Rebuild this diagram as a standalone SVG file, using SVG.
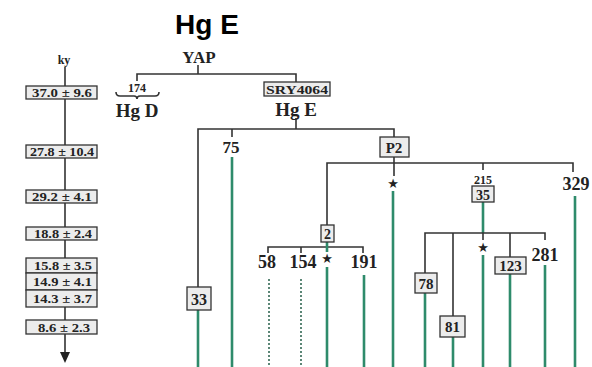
<svg xmlns="http://www.w3.org/2000/svg" width="592" height="367" viewBox="0 0 592 367">
<style>
.t{font-family:"Liberation Serif","Times New Roman",serif;font-weight:bold;fill:#222;text-anchor:middle}
.k{font-family:"Liberation Serif","Times New Roman",serif;font-weight:bold;fill:#222;font-size:12.5px}
.bx{fill:#ececec;stroke:#333;stroke-width:1.3}
.ln{stroke:#333;stroke-width:1.6;fill:none}
.g{stroke:#2e8b6b;stroke-width:2.6;fill:none}
.d{stroke:#4a7a68;stroke-width:1.8;stroke-dasharray:2,2;fill:none}
.star{font-family:"DejaVu Sans",sans-serif;fill:#222;text-anchor:middle;font-size:13px}
</style>
<rect width="592" height="367" fill="#fff"/>
<text x="207" y="34" style="font-family:'Liberation Sans',Arial,sans-serif;font-weight:bold;font-size:28px;fill:#000;text-anchor:middle">Hg E</text>

<g id="timescale">
<text class="t" x="64" y="64" font-size="12">ky</text>
<line class="ln" x1="65" y1="67" x2="65" y2="353"/>
<polygon points="60,352 70,352 65,363" fill="#222"/>
<rect class="bx" x="26" y="86" width="71" height="13"/><text class="k" x="32" y="97" textLength="60" lengthAdjust="spacingAndGlyphs">37.0 ± 9.6</text>
<rect class="bx" x="26" y="145" width="71" height="13"/><text class="k" x="30" y="156" textLength="64" lengthAdjust="spacingAndGlyphs">27.8 ± 10.4</text>
<rect class="bx" x="26" y="190" width="71" height="13"/><text class="k" x="32" y="201" textLength="60" lengthAdjust="spacingAndGlyphs">29.2 ± 4.1</text>
<rect class="bx" x="26" y="227" width="71" height="13"/><text class="k" x="34" y="238" textLength="58" lengthAdjust="spacingAndGlyphs">18.8 ± 2.4</text>
<rect class="bx" x="26" y="258" width="71" height="15"/><text class="k" x="34" y="270" textLength="58" lengthAdjust="spacingAndGlyphs">15.8 ± 3.5</text>
<rect class="bx" x="26" y="273" width="71" height="17"/><text class="k" x="33" y="286" textLength="59" lengthAdjust="spacingAndGlyphs">14.9 ± 4.1</text>
<rect class="bx" x="26" y="290" width="71" height="17"/><text class="k" x="33" y="303" textLength="59" lengthAdjust="spacingAndGlyphs">14.3 ± 3.7</text>
<rect class="bx" x="26" y="320" width="71" height="14"/><text class="k" x="38" y="331.5" textLength="52" lengthAdjust="spacingAndGlyphs">8.6 ± 2.3</text>
</g>

<g id="connectors">
<line class="ln" x1="198" y1="65" x2="198" y2="74"/>
<polyline class="ln" points="137,81 137,74 296,74 296,82"/>
<path class="ln" d="M116,92 Q116,96 120,96 L134,96 Q137,96 137,99 Q137,96 140,96 L155,96 Q159,96 159,92" stroke-width="1.2"/>
<line class="ln" x1="296" y1="118" x2="296" y2="129"/>
<polyline class="ln" points="198,287 198,129 394,129 394,137"/>
<line class="ln" x1="232" y1="129" x2="232" y2="137"/>
<line class="ln" x1="394" y1="157" x2="394" y2="176"/>
<polyline class="ln" points="327,225 327,163 573,163 573,172"/>
<line class="ln" x1="483" y1="163" x2="483" y2="170"/>
<polyline class="ln" points="268,253 268,247 363,247 363,253"/>
<line class="ln" x1="301" y1="247" x2="301" y2="253"/>
<line class="g" x1="327" y1="242" x2="327" y2="252"/>
<line class="g" x1="483" y1="202" x2="483" y2="233"/>
<polyline class="ln" points="425,273 425,233 545,233 545,240"/>
<line class="ln" x1="453" y1="233" x2="453" y2="316"/>
<line class="ln" x1="483" y1="233" x2="483" y2="240"/>
<line class="ln" x1="510" y1="233" x2="510" y2="257"/>
<line class="g" x1="198" y1="310" x2="198" y2="367"/>
<line class="g" x1="232" y1="157" x2="232" y2="367"/>
<line class="d" x1="269" y1="279" x2="269" y2="367"/>
<line class="d" x1="301" y1="279" x2="301" y2="367"/>
<line class="g" x1="327" y1="267" x2="327" y2="367"/>
<line class="g" x1="364" y1="275" x2="364" y2="367"/>
<line class="g" x1="393" y1="191" x2="393" y2="367"/>
<line class="g" x1="425" y1="293" x2="425" y2="367"/>
<line class="g" x1="453" y1="337" x2="453" y2="367"/>
<line class="g" x1="483" y1="255" x2="483" y2="367"/>
<line class="g" x1="510" y1="274" x2="510" y2="367"/>
<line class="g" x1="545" y1="265" x2="545" y2="367"/>
<line class="g" x1="575" y1="196" x2="575" y2="367"/>
</g>

<g id="YAP"><text class="t" x="199" y="63" font-size="17">YAP</text></g>
<g id="HgD">
<text class="t" x="137" y="92" font-size="12">174</text>
<text class="t" x="137" y="117" font-size="19">Hg D</text>
</g>
<g id="SRY4064">
<rect class="bx" x="264" y="82" width="66" height="14"/>
<text class="k" x="266" y="93.5" textLength="62" lengthAdjust="spacingAndGlyphs">SRY4064</text>
<text class="t" x="296" y="116" font-size="19">Hg E</text>
</g>
<g id="n33"><rect class="bx" x="187" y="287" width="24" height="23"/><text class="t" x="199" y="304.5" font-size="16">33</text></g>
<g id="n75"><text class="t" x="231" y="153" font-size="17">75</text></g>
<g id="nP2"><rect class="bx" x="380" y="137" width="29" height="20"/><text class="t" x="394" y="153" font-size="15">P2</text></g>
<g id="starP2"><text class="star" x="393" y="188">★</text></g>
<g id="n2"><rect class="bx" x="321" y="225" width="13" height="17"/><text class="t" x="327.5" y="239" font-size="14">2</text></g>
<g id="n58"><text class="t" x="267" y="268" font-size="18">58</text></g>
<g id="n154"><text class="t" x="303" y="268" font-size="18">154</text></g>
<g id="star2"><text class="star" x="327" y="263">★</text></g>
<g id="n191"><text class="t" x="364" y="268" font-size="18">191</text></g>
<g id="n215"><text class="t" x="483" y="184" font-size="12">215</text></g>
<g id="n35"><rect class="bx" x="472" y="186" width="22" height="16"/><text class="t" x="483" y="199.5" font-size="14">35</text></g>
<g id="n329"><text class="t" x="576" y="190" font-size="18">329</text></g>
<g id="n78"><rect class="bx" x="415" y="273" width="22" height="20"/><text class="t" x="426" y="288.5" font-size="15">78</text></g>
<g id="n81"><rect class="bx" x="440" y="316" width="25" height="21"/><text class="t" x="452.5" y="332" font-size="15">81</text></g>
<g id="star35"><text class="star" x="483" y="252">★</text></g>
<g id="n123"><rect class="bx" x="495" y="257" width="31" height="17"/><text class="t" x="510.5" y="271" font-size="15">123</text></g>
<g id="n281"><text class="t" x="545" y="261" font-size="18">281</text></g>
</svg>
